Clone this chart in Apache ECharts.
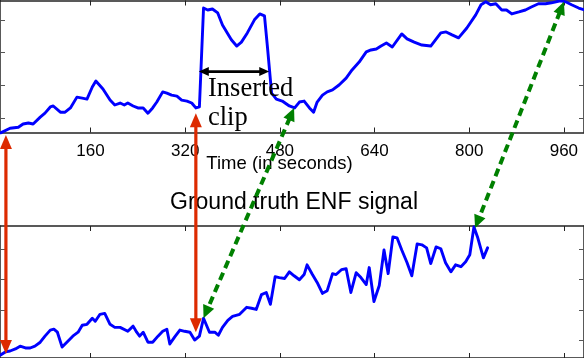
<!DOCTYPE html>
<html>
<head>
<meta charset="utf-8">
<script src="https://cdn.jsdelivr.net/npm/echarts@6/dist/echarts.min.js"></script>
<style>html,body{margin:0;padding:0;background:#fff;}#c{width:584px;height:358px;}</style>
</head>
<body>
<div id="c"></div>
<script>
// ---- data ----
const xTicks = [160, 320, 480, 640, 800, 960];
const yTicks = [0, 1, 2, 3];

// recorded signal with inserted clip (top panel)
const topTime = [8,24,38,46,55,63,75,83,92,97,109,117,126,137,146,154,163,169,181,193,201,210,217,223,232,240,249,257,265,272,282,289,297,306,314,323,331,338,344,351,358,366,375,383,398,407,415,425,437,446,454,459,466,474,484,496,505,513,521,530,537,543,552,560,569,580,592,602,614,626,634,643,651,660,670,686,695,707,720,735,752,761,771,782,796,811,820,828,836,845,855,863,872,884,895,905,917,929,939,954,963,973,985,995];
const topValue = [-0.45,-0.31,-0.28,-0.18,-0.15,-0.18,0.03,0.15,0.34,0.37,0.18,0.18,0.31,0.64,0.61,0.58,0.95,1.13,0.89,0.55,0.40,0.46,0.40,0.46,0.37,0.31,0.31,0.15,0.31,0.49,0.80,0.76,0.70,0.67,0.55,0.52,0.46,0.31,0.34,3.36,3.30,3.33,3.21,2.84,2.39,2.20,2.32,2.60,3.00,3.18,3.12,2.17,0.76,0.58,0.52,0.37,0.31,0.49,0.52,0.31,0.18,0.49,0.70,0.80,0.86,1.01,1.22,1.47,1.71,2.02,2.08,2.11,2.20,2.29,2.17,2.57,2.42,2.32,2.23,2.20,2.60,2.63,2.54,2.45,2.75,3.15,3.46,3.55,3.46,3.49,3.30,3.30,3.18,3.24,3.30,3.39,3.49,3.49,3.52,3.58,3.55,3.46,3.36,3.30];

// ground truth ENF signal (bottom panel)
const bottomTime = [8,16,24,33,41,50,58,66,75,83,92,98,104,112,120,130,139,146,154,163,168,176,184,193,201,210,223,232,238,243,249,257,265,274,282,289,294,302,311,319,328,336,344,351,361,370,376,383,392,400,412,424,432,440,449,457,464,472,479,488,496,504,513,521,526,535,543,552,560,569,575,584,592,600,609,617,626,631,639,648,656,663,671,678,686,695,703,712,720,728,735,744,752,760,769,777,786,794,801,808,814,824,831];
const bottomValue = [-0.49,-0.39,-0.36,-0.29,-0.20,-0.26,-0.26,-0.20,-0.07,0.13,0.33,0.36,0.26,-0.23,-0.07,0.13,0.26,0.49,0.52,0.72,0.62,0.85,0.88,0.52,0.42,0.42,0.29,0.46,0.26,0.13,0.26,-0.07,-0.07,0.13,0.29,0.36,-0.13,0.10,0.33,0.29,0.26,0.00,0.13,0.72,0.26,0.26,0.16,0.42,0.65,0.78,0.85,1.08,1.05,1.01,1.50,1.57,1.18,2.09,2.06,2.03,2.25,2.12,1.99,2.16,2.48,2.16,1.90,1.54,1.63,2.19,2.16,2.32,2.35,1.57,2.22,2.06,1.83,2.39,1.27,1.80,2.97,2.19,3.40,3.37,2.97,2.55,2.12,3.17,3.14,3.04,2.52,3.07,3.01,2.55,2.25,2.48,2.42,2.58,2.81,3.73,3.40,2.71,3.04];

// annotation arrows: [panel, time, value] endpoints
const redArrow1 = [[0, 17, -0.52], [1, 17, -0.46]];
const redArrow2 = [[0, 338, 0.15], [1, 338, 0.26]];
const greenArrow1 = [[0, 504, 0.31], [1, 351, 0.72]];
const greenArrow2 = [[0, 960, 3.55], [1, 810, 3.69]];
const clipArrow = [[0, 343, 1.42], [0, 462, 1.42]];

// ---- chart ----
const X_MIN = 7, X_MAX = 994;
const LINE = '#222';
function xAx(grid, pos, labels) {
  return {
    type: 'value', gridIndex: grid, position: pos, min: X_MIN, max: X_MAX,
    axisLine: { show: true, onZero: false, lineStyle: { color: LINE, width: 1.5 } },
    axisTick: { show: true, inside: true, length: 5, customValues: xTicks, lineStyle: { color: LINE, width: 1 } },
    axisLabel: { show: labels, customValues: xTicks, margin: 10, fontSize: 17, color: '#000', fontFamily: 'Liberation Sans' },
    splitLine: { show: false }
  };
}
function yAx(grid, pos, mn, mx) {
  return {
    type: 'value', gridIndex: grid, position: pos, min: mn, max: mx,
    axisLine: { show: true, onZero: false, lineStyle: { color: LINE, width: 1.5 } },
    axisTick: { show: true, inside: true, length: 5, customValues: yTicks, lineStyle: { color: '#555', width: 1 } },
    axisLabel: { show: false },
    splitLine: { show: false }
  };
}
const chart = echarts.init(document.getElementById('c'), null, { renderer: 'canvas' });
chart.setOption({
  animation: false,
  backgroundColor: '#fff',
  grid: [
    { left: 0, right: -1, top: 0.5, height: 132 },
    { left: 0, right: -1, top: 226, height: 133 }
  ],
  xAxis: [xAx(0, 'bottom', true), xAx(0, 'top', false), xAx(1, 'top', false), xAx(1, 'bottom', false)],
  yAxis: [yAx(0, 'left', -0.44, 3.59), yAx(0, 'right', -0.44, 3.59), yAx(1, 'left', -0.59, 3.76), yAx(1, 'right', -0.59, 3.76)],
  series: [
    { type: 'line', xAxisIndex: 0, yAxisIndex: 0, data: topTime.map((t, i) => [t, topValue[i]]),
      showSymbol: false, symbol: 'none', clip: false, lineStyle: { color: '#0000ff', width: 2.9, join: 'round', cap: 'round' }, z: 3 },
    { type: 'line', xAxisIndex: 2, yAxisIndex: 2, data: bottomTime.map((t, i) => [t, bottomValue[i]]),
      showSymbol: false, symbol: 'none', clip: false, lineStyle: { color: '#0000ff', width: 2.9, join: 'round', cap: 'round' }, z: 3 }
  ]
});

function px(p) {
  const f = p[0] === 0 ? { xAxisIndex: 0, yAxisIndex: 0 } : { xAxisIndex: 2, yAxisIndex: 2 };
  return chart.convertToPixel(f, [p[1], p[2]]);
}
function arrow(def, color, width, dash, L, W) {
  const a = px(def[0]), b = px(def[1]);
  const dx = b[0] - a[0], dy = b[1] - a[1], len = Math.hypot(dx, dy);
  const ux = dx / len, uy = dy / len, nx = -uy, ny = ux;
  const els = [];
  els.push({ type: 'line', z: 100, silent: true,
    shape: { x1: a[0] + ux * L * 0.8, y1: a[1] + uy * L * 0.8, x2: b[0] - ux * L * 0.8, y2: b[1] - uy * L * 0.8 },
    style: { stroke: color, lineWidth: width, lineDash: dash || null } });
  function head(tip, sx, sy) {
    const bx = tip[0] - sx * L, by = tip[1] - sy * L;
    els.push({ type: 'polygon', z: 101, silent: true,
      shape: { points: [[tip[0], tip[1]], [bx + nx * W / 2, by + ny * W / 2], [bx - nx * W / 2, by - ny * W / 2]] },
      style: { fill: color } });
  }
  head(b, ux, uy);
  head(a, -ux, -uy);
  return els;
}
function txt(s, x, y, font, align) {
  return { type: 'text', x: x, y: y, z: 50, silent: true,
    style: { text: s, font: font, fill: '#000', align: align || 'center', verticalAlign: 'middle' } };
}
const g = [].concat(
  [txt('Time (in seconds)', 279.5, 164, '18.5px "Liberation Sans"'),
   txt('Ground truth ENF signal', 294, 203, '23px "Liberation Sans"'),
   txt('Inserted', 208, 89, '26.5px "Liberation Serif"', 'left'),
   txt('clip', 208, 118, '26.5px "Liberation Serif"', 'left')],
  arrow(redArrow1, '#dd2a00', 3.2, null, 14, 12),
  arrow(redArrow2, '#dd2a00', 3.2, null, 14, 12),
  arrow(greenArrow1, '#008000', 4, [8, 5], 13, 12),
  arrow(greenArrow2, '#008000', 4, [8, 5], 13, 12),
  arrow(clipArrow, '#000000', 2.8, null, 10, 9)
);
chart.setOption({ graphic: g });
</script>
</body>
</html>
